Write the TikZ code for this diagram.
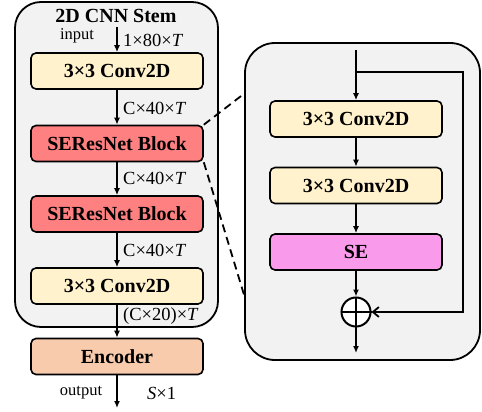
\documentclass[tikz,border=0pt]{standalone}
\usepackage{fontspec}
\setmainfont{Liberation Serif}
\usetikzlibrary{arrows.meta}
\definecolor{panel}{HTML}{F2F2F2}
\definecolor{convc}{HTML}{FFF2CC}
\definecolor{resc}{HTML}{FF8080}
\definecolor{encc}{HTML}{F8CBAD}
\definecolor{sec}{HTML}{F99BEA}
\tikzset{
  panelbox/.style={draw, line width=1.8pt, fill=panel, inner sep=0pt},
  blk/.style={draw, line width=1.6pt, rounded corners=5pt, minimum width=172pt, minimum height=36pt, inner sep=0pt, font=\bfseries\fontsize{20}{22}\selectfont},
  flow/.style={line width=1.4pt, -{Latex[length=7pt,width=6pt]}},
  dimlab/.style={anchor=west, inner sep=0pt, font=\fontsize{18.5}{20}\selectfont},
  iolab/.style={inner sep=0pt, font=\fontsize{16.5}{18}\selectfont},
  zoomline/.style={line width=1.8pt, dash pattern=on 8pt off 5pt}
}
\begin{document}
\begin{tikzpicture}[x=1pt,y=-1pt]
\useasboundingbox (0,0) rectangle (482,412);
% panels
\node[panelbox, rounded corners=26pt, minimum width=203pt, minimum height=325pt] (stem) at (116.5,164.5) {};
\node[panelbox, rounded corners=30pt, minimum width=235pt, minimum height=317pt] (detail) at (362.5,201.5) {};
\node[inner sep=0pt, font=\bfseries\fontsize{20}{22}\selectfont] (title) at (116,16) {2D CNN Stem};
% left column
\node[blk, fill=convc] (conv1) at (117,71) {3×3 Conv2D};
\node[blk, fill=resc] (ser1) at (117,143.5) {SEResNet Block};
\node[blk, fill=resc] (ser2) at (117,214) {SEResNet Block};
\node[blk, fill=convc] (conv2) at (117,286) {3×3 Conv2D};
\node[blk, fill=encc] (enc) at (117,356.5) {Encoder};
\coordinate (in) at (117,27);
\coordinate (out) at (117,408);
\draw[flow] (in) -- (conv1.north);
\draw[flow] (conv1) -- (ser1);
\draw[flow] (ser1) -- (ser2);
\draw[flow] (ser2) -- (conv2);
\draw[flow] (conv2) -- (enc);
\draw[flow] (enc) -- (out);
\node[iolab] (inlab) at (77,36) {input};
\node[dimlab] (d0) at (123,40) {1×80×\textit{T}};
\node[dimlab] (d1) at (123,108) {C×40×\textit{T}};
\node[dimlab] (d2) at (123,178) {C×40×\textit{T}};
\node[dimlab] (d3) at (123,250) {C×40×\textit{T}};
\node[dimlab] (d4) at (123,316) {(C×20)×\textit{T}};
\node[iolab] (outlab) at (81,393) {output};
\node[dimlab] (d5) at (147,393) {\textit{S}×1};
% right detail
\node[blk, fill=convc] (rc1) at (356,119) {3×3 Conv2D};
\node[blk, fill=convc] (rc2) at (356,185.5) {3×3 Conv2D};
\node[blk, fill=sec] (se) at (356,252) {SE};
\node[draw, circle, line width=2pt, fill=white, minimum size=29pt, inner sep=0pt] (add) at (356,312) {};
\draw[line width=1.8pt] (add.north) -- (add.south) (add.west) -- (add.east);
\coordinate (rin) at (356,50);
\coordinate (split) at (356,72);
\coordinate (sr1) at (463,72);
\coordinate (sr2) at (463,312);
\coordinate (rout) at (356,353);
\draw[flow] (rin) -- (rc1.north);
\draw[flow] (rc1) -- (rc2);
\draw[flow] (rc2) -- (se);
\draw[flow] (se) -- (add);
\draw[flow] (add) -- (rout);
\draw[line width=1.8pt, -{Straight Barb[length=6pt,width=10pt]}] (split) -- (sr1) -- (sr2) -- (add.east);
% zoom lines
\coordinate (zt) at (245,93);
\coordinate (zb) at (245,298);
\draw[zoomline] (ser1.north east) -- (zt);
\draw[zoomline] (ser1.south east) -- (zb);
\end{tikzpicture}
\end{document}
